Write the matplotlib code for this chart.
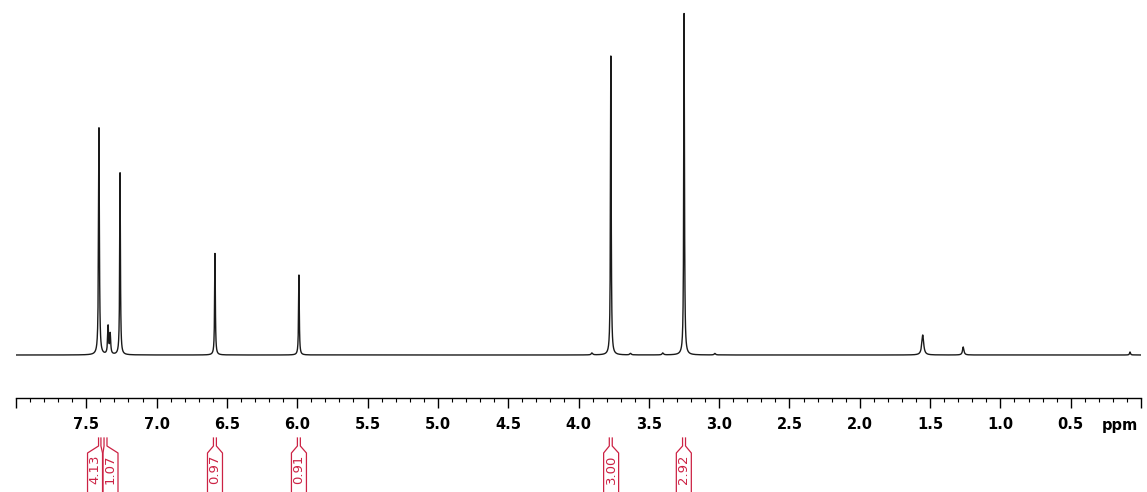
import numpy as np
import matplotlib
matplotlib.use("Agg")
import matplotlib.pyplot as plt
from matplotlib.ticker import MultipleLocator, FuncFormatter

# ---- 1H NMR peak list (chemical shift in ppm, intensity, half width at half max) ----
peak_ppm = [7.410, 7.345, 7.330, 7.260, 6.585, 5.988, 3.770, 3.249,
            1.552, 1.264, 0.078, 3.904, 3.630, 3.400, 3.030]
peak_height = [227, 28, 20, 182, 102, 80, 299, 343,
               20, 8, 3, 2, 1.5, 2, 1.5]
peak_hwhm = [0.0035, 0.0040, 0.0040, 0.0030, 0.0030, 0.0030, 0.0030, 0.0030,
             0.0080, 0.0060, 0.0040, 0.0060, 0.0060, 0.0060, 0.0060]

# ---- integrals ----
int_values = ["4.13", "1.07", "0.97", "0.91", "3.00", "2.92"]
int_start = [7.413, 7.374, 6.596, 5.999, 3.781, 3.260]
int_end = [7.396, 7.353, 6.575, 5.978, 3.760, 3.239]
int_label_ppm = [7.438, 7.328, 6.585, 5.988, 3.768, 3.251]

# ---- axis ----
ppm_max, ppm_min = 8.0, 0.0

W, H = 1147, 492
fig = plt.figure(figsize=(W / 100, H / 100), dpi=100)
ax_left, ax_right = 16 / W, 1141 / W
ax_bottom = (H - 398) / H
ax = fig.add_axes([ax_left, ax_bottom, ax_right - ax_left, 1 - ax_bottom])

x = np.arange(ppm_min, ppm_max + 1e-9, 0.0004)
y = np.zeros_like(x)
for p, h, w in zip(peak_ppm, peak_height, peak_hwhm):
    y += h * w ** 2 / ((x - p) ** 2 + w ** 2)

ax.plot(x, y, color="#1a1a1a", lw=1.0)
ax.set_xlim(ppm_max, ppm_min)
ax.set_ylim(-43, 355)

for s in ("top", "left", "right"):
    ax.spines[s].set_visible(False)
ax.spines["bottom"].set_linewidth(1.0)
ax.set_yticks([])
ax.xaxis.set_major_locator(MultipleLocator(0.5))
ax.xaxis.set_minor_locator(MultipleLocator(0.1))


def fmt(v, pos):
    if v > 7.9 or v < 0.1:
        return ""
    return f"{v:.1f}"


ax.xaxis.set_major_formatter(FuncFormatter(fmt))
ax.tick_params(axis="x", which="major", direction="out", length=7.2, width=1.0, pad=6.5)
ax.tick_params(axis="x", which="minor", direction="out", length=3.0, width=0.8)
for lab in ax.get_xticklabels():
    lab.set_fontfamily("DejaVu Sans")
    lab.set_fontweight("bold")
    lab.set_fontsize(10.5)

fig.text(1120 / W, 1 - 430 / H, "ppm", ha="center", va="baseline",
         fontsize=10.5, fontweight="bold", family="DejaVu Sans")

# ---- integral labels below the axis ----
red = "#cc2244"
iax = fig.add_axes([ax_left, 0, ax_right - ax_left, 62 / H])
iax.set_xlim(ppm_max, ppm_min)
iax.set_ylim(492, 430)
iax.axis("off")
ppm_per_px = (ppm_max - ppm_min) / (1141 - 16)
half_w = 7.5 * ppm_per_px
for val, a, b, c in zip(int_values, int_start, int_end, int_label_ppm):
    iax.plot([a, a, c + half_w, c + half_w], [438, 446, 453, 500],
             color=red, lw=0.9, clip_on=False)
    iax.plot([b, b, c - half_w, c - half_w], [438, 446, 453, 500],
             color=red, lw=0.9, clip_on=False)
    iax.text(c, 469, val, rotation=90, ha="center", va="center",
             color=red, fontsize=9.5, family="DejaVu Sans")

fig.savefig("out.png", dpi=100)
